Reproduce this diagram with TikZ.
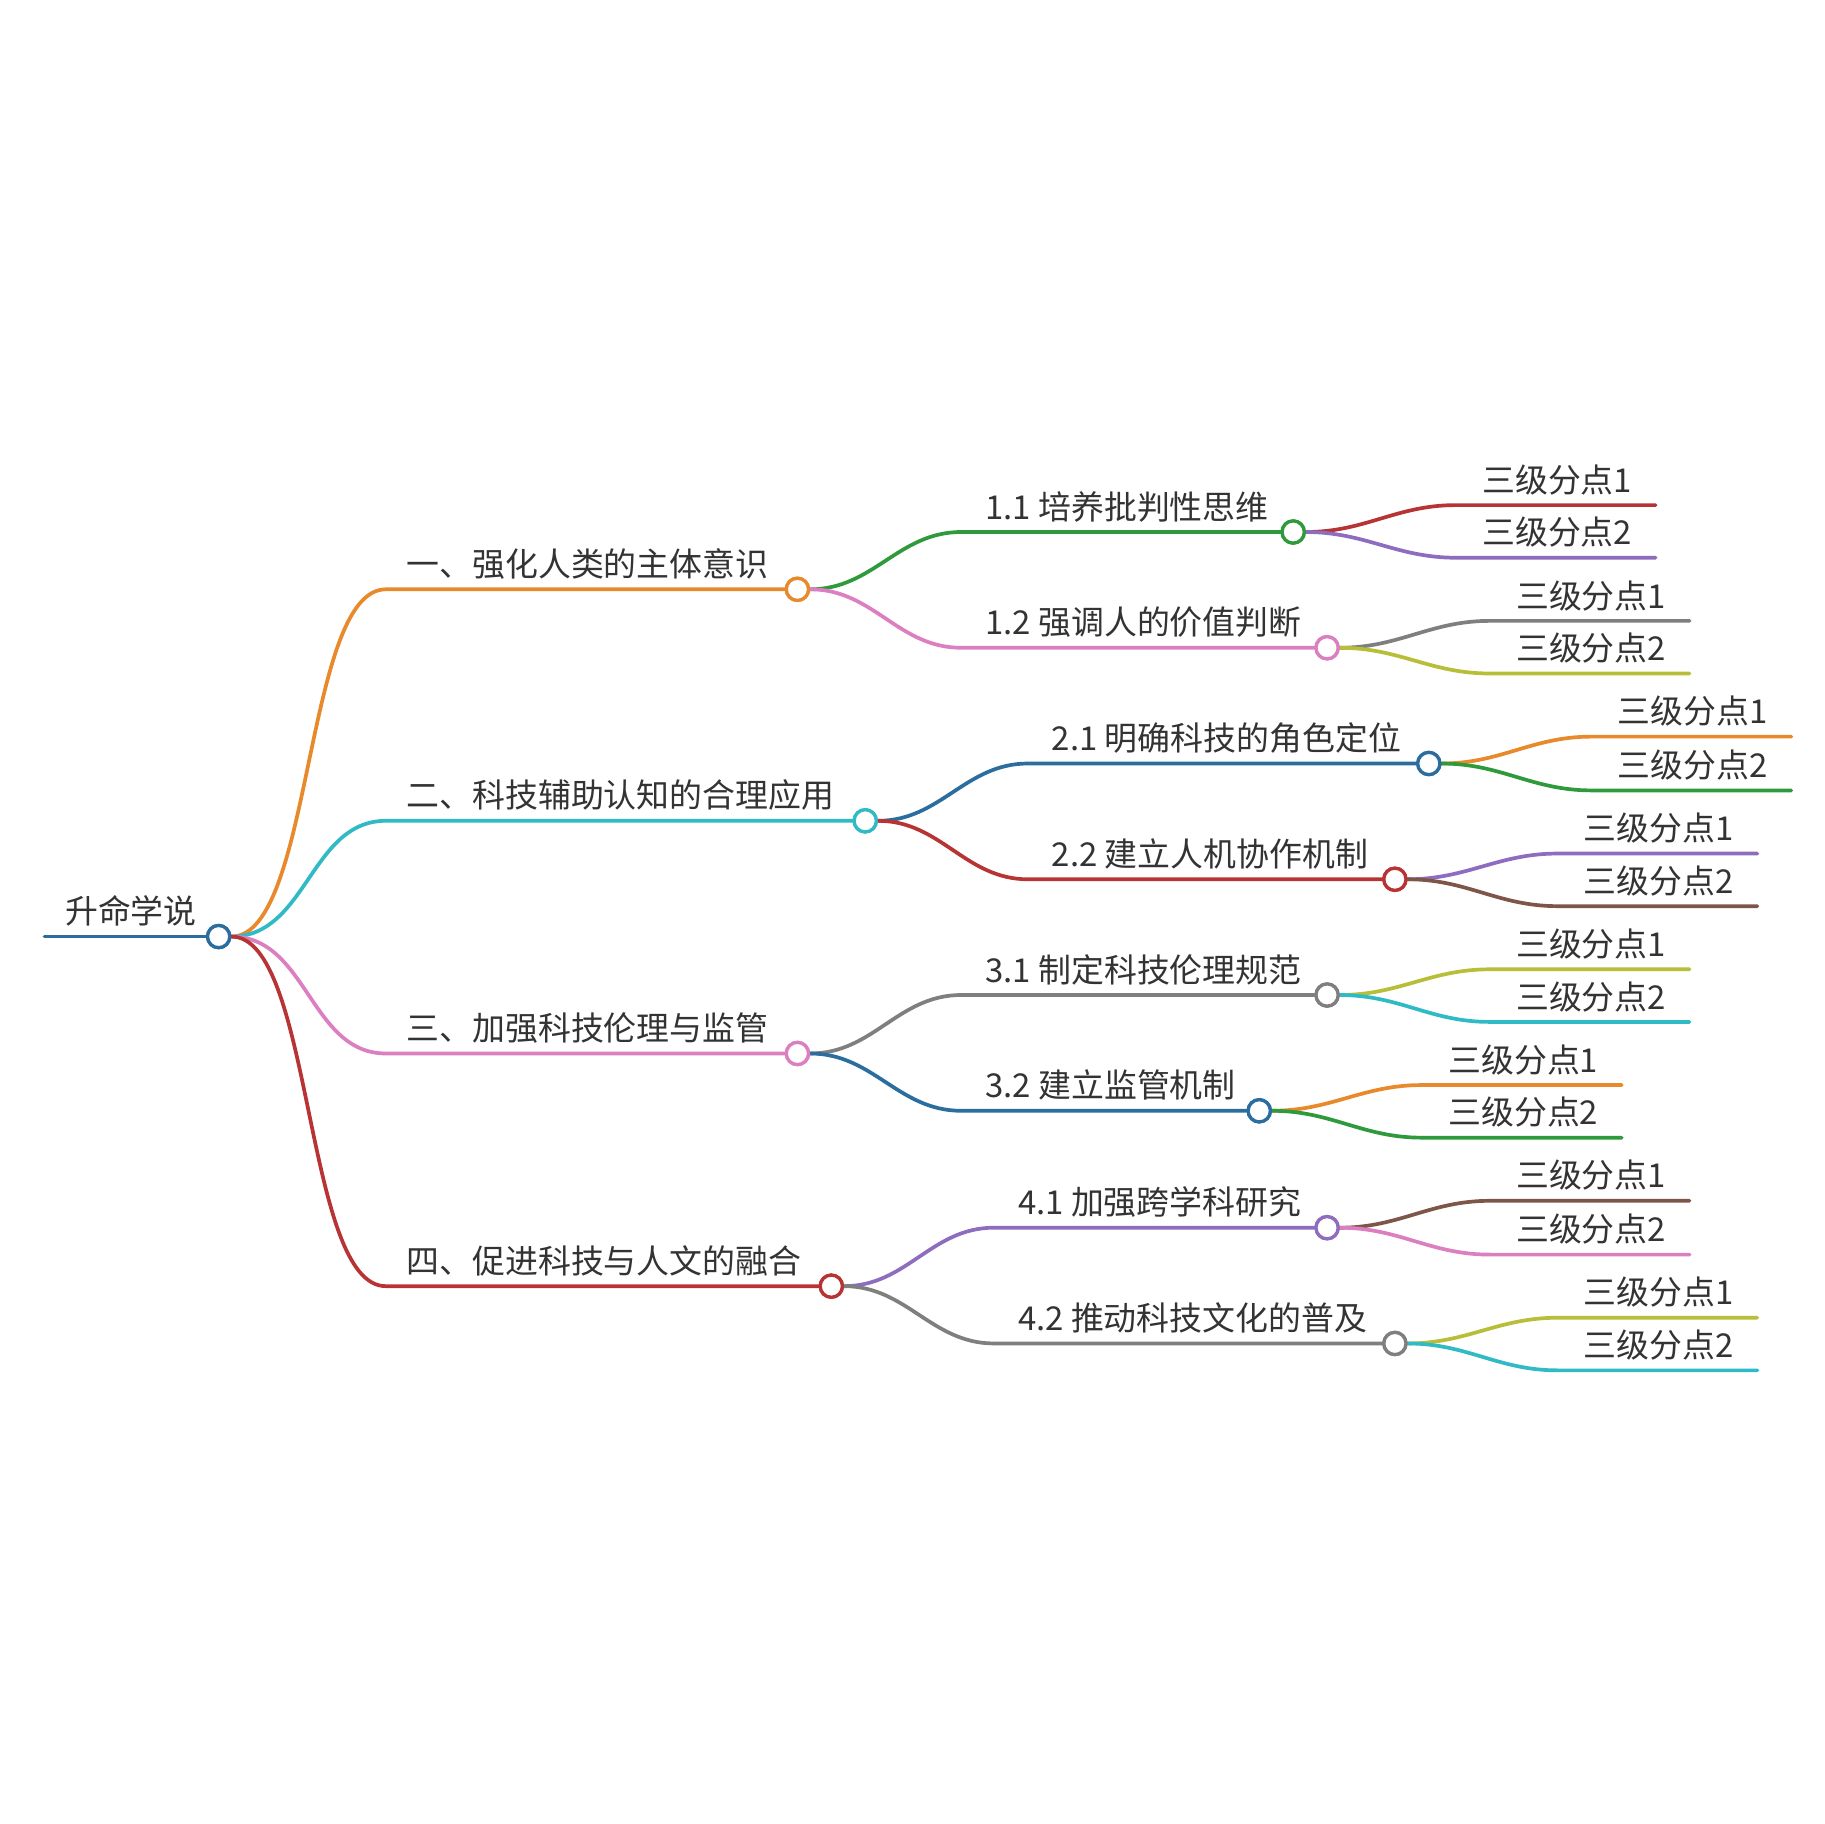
\documentclass[tikz,border=0pt]{standalone}
\usepackage{fontspec}
\usepackage{xcolor}
\usepackage{tikz}
\newfontfamily\cjk{Noto Sans CJK SC}

\definecolor{cOrange}{HTML}{E8892B}
\definecolor{cGreen}{HTML}{2E9A3C}
\definecolor{cPink}{HTML}{DB7FC0}
\definecolor{cCyan}{HTML}{2FBAC6}
\definecolor{cBlue}{HTML}{2A6D9E}
\definecolor{cRed}{HTML}{B83434}
\definecolor{cPurple}{HTML}{8E6CBE}
\definecolor{cGray}{HTML}{7F7F7F}
\definecolor{cOlive}{HTML}{B8BE38}
\definecolor{cBrown}{HTML}{7E5649}
\definecolor{cText}{HTML}{333333}

\tikzset{
  knot/.style={circle, draw=#1, fill=white, line width=0.8pt, minimum size=0.19cm, inner sep=0pt},
  lbl/.style={anchor=base west, inner sep=0pt, text=cText, font=\cjk\fontsize{8}{10}\selectfont},
  link/.style={draw=#1, line width=0.9pt, line cap=round},
  swoop/.style={out=0, in=180, looseness=#1},
  swoop/.default=1
}

\begin{document}
\begin{tikzpicture}[x=0.01cm, y=-0.01cm]
    % Page frame
    \useasboundingbox[fill=white] (0,0) rectangle (1560,1560);

    % Root
    \coordinate (r-s) at (38,801);
    \node[knot=cBlue] (root) at (187,801) {};
    \node[lbl] (root-t) at (55,790) {升命学说};
    \draw[link=cBlue] (r-s) -- (root.west);

    % First level
    \node[knot=cOrange] (a) at (682,504) {};
    \node[knot=cCyan] (b) at (740,702) {};
    \node[knot=cPink] (c) at (682,901) {};
    \node[knot=cRed] (d) at (711,1100) {};
    \coordinate (a-s) at (330,504);
    \coordinate (b-s) at (330,702);
    \coordinate (c-s) at (330,901);
    \coordinate (d-s) at (330,1100);
    \node[lbl] (a-t) at (347,493) {一、强化人类的主体意识};
    \node[lbl] (b-t) at (347,691) {二、科技辅助认知的合理应用};
    \node[lbl] (c-t) at (347,890) {三、加强科技伦理与监管};
    \node[lbl] (d-t) at (347,1089) {四、促进科技与人文的融合};
    \draw[link=cOrange] (root.east) to[swoop=0.55] (a-s) -- (a.west);
    \draw[link=cCyan] (root.east) to[swoop] (b-s) -- (b.west);
    \draw[link=cPink] (root.east) to[swoop] (c-s) -- (c.west);
    \draw[link=cRed] (root.east) to[swoop=0.55] (d-s) -- (d.west);

    % Second level
    \node[knot=cGreen] (a1) at (1106,455) {};
    \node[knot=cPink] (a2) at (1135,554) {};
    \node[knot=cBlue] (b1) at (1222,653) {};
    \node[knot=cRed] (b2) at (1193,752) {};
    \node[knot=cGray] (c1) at (1135,851) {};
    \node[knot=cBlue] (c2) at (1077,950) {};
    \node[knot=cPurple] (d1) at (1135,1050) {};
    \node[knot=cGray] (d2) at (1193,1149) {};
    \coordinate (a1-s) at (822,455);
    \coordinate (a2-s) at (822,554);
    \coordinate (b1-s) at (879,653);
    \coordinate (b2-s) at (879,752);
    \coordinate (c1-s) at (822,851);
    \coordinate (c2-s) at (822,950);
    \coordinate (d1-s) at (850,1050);
    \coordinate (d2-s) at (850,1149);
    \node[lbl] (a1-t) at (842,444) {1.1 培养批判性思维};
    \node[lbl] (a2-t) at (842,543) {1.2 强调人的价值判断};
    \node[lbl] (b1-t) at (899,642) {2.1 明确科技的角色定位};
    \node[lbl] (b2-t) at (899,741) {2.2 建立人机协作机制};
    \node[lbl] (c1-t) at (842,840) {3.1 制定科技伦理规范};
    \node[lbl] (c2-t) at (842,939) {3.2 建立监管机制};
    \node[lbl] (d1-t) at (870,1039) {4.1 加强跨学科研究};
    \node[lbl] (d2-t) at (870,1138) {4.2 推动科技文化的普及};
    \draw[link=cGreen] (a.east) to[swoop] (a1-s) -- (a1.west);
    \draw[link=cPink] (a.east) to[swoop] (a2-s) -- (a2.west);
    \draw[link=cBlue] (b.east) to[swoop] (b1-s) -- (b1.west);
    \draw[link=cRed] (b.east) to[swoop] (b2-s) -- (b2.west);
    \draw[link=cGray] (c.east) to[swoop] (c1-s) -- (c1.west);
    \draw[link=cBlue] (c.east) to[swoop] (c2-s) -- (c2.west);
    \draw[link=cPurple] (d.east) to[swoop] (d1-s) -- (d1.west);
    \draw[link=cGray] (d.east) to[swoop] (d2-s) -- (d2.west);

    % Third level (1.x)
    \coordinate (a1x-s) at (1245,432); \coordinate (a1x-e) at (1416,432);
    \coordinate (a1y-s) at (1245,477); \coordinate (a1y-e) at (1416,477);
    \node[lbl] (a1x) at (1267,421) {三级分点1};
    \node[lbl] (a1y) at (1267,466) {三级分点2};
    \draw[link=cRed] (a1.east) to[swoop] (a1x-s) -- (a1x-e);
    \draw[link=cPurple] (a1.east) to[swoop] (a1y-s) -- (a1y-e);
    \coordinate (a2x-s) at (1274,531); \coordinate (a2x-e) at (1445,531);
    \coordinate (a2y-s) at (1274,576); \coordinate (a2y-e) at (1445,576);
    \node[lbl] (a2x) at (1296,520) {三级分点1};
    \node[lbl] (a2y) at (1296,565) {三级分点2};
    \draw[link=cGray] (a2.east) to[swoop] (a2x-s) -- (a2x-e);
    \draw[link=cOlive] (a2.east) to[swoop] (a2y-s) -- (a2y-e);

    % Third level (2.x)
    \coordinate (b1x-s) at (1361,630); \coordinate (b1x-e) at (1532,630);
    \coordinate (b1y-s) at (1361,676); \coordinate (b1y-e) at (1532,676);
    \node[lbl] (b1x) at (1383,619) {三级分点1};
    \node[lbl] (b1y) at (1383,665) {三级分点2};
    \draw[link=cOrange] (b1.east) to[swoop] (b1x-s) -- (b1x-e);
    \draw[link=cGreen] (b1.east) to[swoop] (b1y-s) -- (b1y-e);
    \coordinate (b2x-s) at (1332,730); \coordinate (b2x-e) at (1503,730);
    \coordinate (b2y-s) at (1332,775); \coordinate (b2y-e) at (1503,775);
    \node[lbl] (b2x) at (1354,719) {三级分点1};
    \node[lbl] (b2y) at (1354,764) {三级分点2};
    \draw[link=cPurple] (b2.east) to[swoop] (b2x-s) -- (b2x-e);
    \draw[link=cBrown] (b2.east) to[swoop] (b2y-s) -- (b2y-e);

    % Third level (3.x)
    \coordinate (c1x-s) at (1274,829); \coordinate (c1x-e) at (1445,829);
    \coordinate (c1y-s) at (1274,874); \coordinate (c1y-e) at (1445,874);
    \node[lbl] (c1x) at (1296,818) {三级分点1};
    \node[lbl] (c1y) at (1296,863) {三级分点2};
    \draw[link=cOlive] (c1.east) to[swoop] (c1x-s) -- (c1x-e);
    \draw[link=cCyan] (c1.east) to[swoop] (c1y-s) -- (c1y-e);
    \coordinate (c2x-s) at (1216,928); \coordinate (c2x-e) at (1387,928);
    \coordinate (c2y-s) at (1216,973); \coordinate (c2y-e) at (1387,973);
    \node[lbl] (c2x) at (1238,917) {三级分点1};
    \node[lbl] (c2y) at (1238,962) {三级分点2};
    \draw[link=cOrange] (c2.east) to[swoop] (c2x-s) -- (c2x-e);
    \draw[link=cGreen] (c2.east) to[swoop] (c2y-s) -- (c2y-e);

    % Third level (4.x)
    \coordinate (d1x-s) at (1274,1027); \coordinate (d1x-e) at (1445,1027);
    \coordinate (d1y-s) at (1274,1073); \coordinate (d1y-e) at (1445,1073);
    \node[lbl] (d1x) at (1296,1016) {三级分点1};
    \node[lbl] (d1y) at (1296,1062) {三级分点2};
    \draw[link=cBrown] (d1.east) to[swoop] (d1x-s) -- (d1x-e);
    \draw[link=cPink] (d1.east) to[swoop] (d1y-s) -- (d1y-e);
    \coordinate (d2x-s) at (1332,1127); \coordinate (d2x-e) at (1503,1127);
    \coordinate (d2y-s) at (1332,1172); \coordinate (d2y-e) at (1503,1172);
    \node[lbl] (d2x) at (1354,1116) {三级分点1};
    \node[lbl] (d2y) at (1354,1161) {三级分点2};
    \draw[link=cOlive] (d2.east) to[swoop] (d2x-s) -- (d2x-e);
    \draw[link=cCyan] (d2.east) to[swoop] (d2y-s) -- (d2y-e);

    % Redraw knots on top of the lines
    \foreach \k/\c in {root/cBlue,a/cOrange,b/cCyan,c/cPink,d/cRed,a1/cGreen,a2/cPink,b1/cBlue,b2/cRed,c1/cGray,c2/cBlue,d1/cPurple,d2/cGray}
        \node[knot=\c] at (\k) {};
\end{tikzpicture}
\end{document}
